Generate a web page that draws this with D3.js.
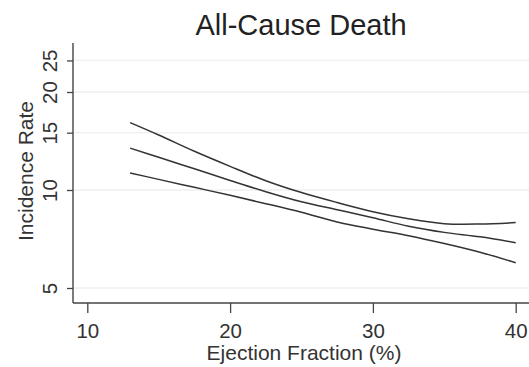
<!DOCTYPE html>
<html>
<head>
<meta charset="utf-8">
<script src="https://cdn.jsdelivr.net/npm/d3@7"></script>
<style>
  html, body { margin: 0; padding: 0; background: #fff; }
  svg { display: block; font-family: "Liberation Sans", Arial, sans-serif; }
</style>
</head>
<body>
<svg id="chart" width="529" height="367"></svg>
<script>
// Ejection fraction (%) grid the fitted curves are evaluated on
const ejectionFraction = [13, 15, 17.5, 20, 22.5, 25, 27.5, 30, 32.5, 35, 37.5, 40];
// Incidence rate: upper confidence bound, point estimate, lower confidence bound
const upperBound = [16.1, 14.75, 13.15, 11.82, 10.68, 9.82, 9.15, 8.58, 8.16, 7.88, 7.86, 7.94];
const estimate   = [13.45, 12.6, 11.62, 10.7, 9.88, 9.2, 8.7, 8.22, 7.74, 7.41, 7.18, 6.89];
const lowerBound = [11.28, 10.78, 10.19, 9.63, 9.08, 8.54, 7.97, 7.58, 7.24, 6.85, 6.44, 5.98];

const xTicks = [10, 20, 30, 40];
const yTicks = [5, 10, 15, 20, 25];

const svg = d3.select("#chart");
const W = 529, H = 367;
const frameLeft = 73, frameBottom = 303, frameTop = 43;

const x = d3.scaleLinear().domain([10, 40]).range([87.3, 515.7]);
const y = d3.scaleLog().domain([5, 10]).range([288, 190]);

// horizontal grid
svg.append("g")
  .selectAll("line")
  .data(yTicks)
  .join("line")
  .attr("x1", frameLeft + 1).attr("x2", W)
  .attr("y1", d => y(d)).attr("y2", d => y(d))
  .attr("stroke", "#efefef").attr("stroke-width", 1.3);

// y axis
const yAxis = svg.append("g")
  .attr("transform", `translate(${frameLeft},0)`)
  .call(d3.axisLeft(y).tickValues(yTicks).tickFormat(d3.format("d")).tickSize(6).tickPadding(0));
yAxis.select(".domain").remove();
yAxis.selectAll(".tick line").attr("stroke", "#444").attr("stroke-width", 1.3);
yAxis.selectAll(".tick text")
  .attr("transform", "rotate(-90)")
  .attr("x", 0).attr("y", -16)
  .attr("dy", 0)
  .attr("text-anchor", "middle")
  .attr("font-size", 20.5).attr("fill", "#333");

// x axis
const xAxis = svg.append("g")
  .attr("transform", `translate(0,${frameBottom})`)
  .call(d3.axisBottom(x).tickValues(xTicks).tickFormat(d3.format("d")).tickSize(10).tickPadding(0));
xAxis.select(".domain").remove();
xAxis.selectAll(".tick line").attr("stroke", "#444").attr("stroke-width", 1.3);
xAxis.selectAll(".tick text")
  .attr("y", 35).attr("dy", 0)
  .attr("font-size", 20.5).attr("fill", "#333");

// frame lines
svg.append("line")
  .attr("x1", frameLeft).attr("x2", frameLeft)
  .attr("y1", frameTop).attr("y2", frameBottom)
  .attr("stroke", "#444").attr("stroke-width", 1.4);
svg.append("line")
  .attr("x1", frameLeft).attr("x2", W)
  .attr("y1", frameBottom).attr("y2", frameBottom)
  .attr("stroke", "#444").attr("stroke-width", 1.4);

// curves
const line = d3.line()
  .x((d, i) => x(ejectionFraction[i]))
  .y(d => y(d))
  .curve(d3.curveCatmullRom.alpha(0.5));

svg.append("g")
  .selectAll("path")
  .data([upperBound, estimate, lowerBound])
  .join("path")
  .attr("d", line)
  .attr("fill", "none")
  .attr("stroke", "#333")
  .attr("stroke-width", 1.5);

// titles
svg.append("text")
  .attr("x", 301).attr("y", 35)
  .attr("text-anchor", "middle")
  .attr("font-size", 29).attr("fill", "#222")
  .text("All-Cause Death");

svg.append("text")
  .attr("x", 304).attr("y", 360)
  .attr("text-anchor", "middle")
  .attr("font-size", 21).attr("fill", "#333")
  .text("Ejection Fraction (%)");

svg.append("text")
  .attr("transform", "translate(33,171) rotate(-90)")
  .attr("text-anchor", "middle")
  .attr("font-size", 21).attr("fill", "#333")
  .text("Incidence Rate");
</script>
</body>
</html>
